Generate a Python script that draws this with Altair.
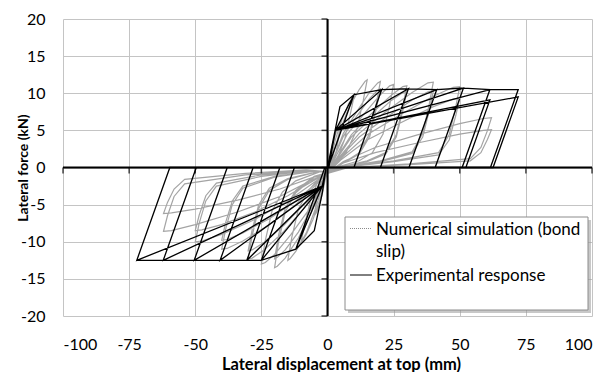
import altair as alt
import pandas as pd

# ---------------- data ----------------
x_ticks = [-100, -75, -50, -25, 0, 25, 50, 75, 100]
y_ticks = [-20, -15, -10, -5, 0, 5, 10, 15, 20]

# black path (idealised hysteresis) : displacement (mm), force (kN)
black_disp = [
    0, 2, 4.7, 10, 0.2,
    -0.5, -2, -5, -12, -1,
    0.5, 3, 10, 20.5, 10,
    -0.5, -2, -12, -25, -12.5,
    0.5, 3, 20.5, 10,
    -0.5, -2, -25, -12.5,
    0.5, 3, 20.5, 30.6, 20,
    -0.5, -2, -25, -30.5, -18,
    0.5, 3, 30.6, 20,
    -0.5, -2, -30.5, -18,
    0.5, 3, 30.6, 41.3, 30.8,
    -0.5, -2, -30.5, -40.6, -28.1,
    0.5, 3, 41.3, 30.8,
    -0.5, -2, -40.6, -28.1,
    0.5, 3, 41.3, 51.4, 40.7,
    -0.5, -2, -40.6, -50.4, -37.9,
    0.5, 3, 51.4, 40.7,
    -0.5, -2, -50.4, -37.9,
    0.5, 3, 51.4, 61.4, 50.9,
    -0.5, -2, -50.4, -62.1, -49.6,
    0.5, 3, 61.4, 52.3,
    -0.5, -2, -62.1, -49.6,
    0.5, 3, 61.4, 72.1, 61.6,
    -0.5, -2, -62.1, -72.1, -59.6,
    0.5, 3, 72.1, 62.6,
    -0.5, -2, -72.1, -59.6,
    0,
]
black_force = [
    0, 3.5, 8.2, 9.8, 0,
    0, -3.5, -8.5, -11, 0,
    0, 5, 9.8, 10.5, 0,
    0, -2.5, -11, -12.5, 0,
    0, 5, 10.5, 0,
    0, -2.5, -12.5, 0,
    0, 5, 10.5, 10.6, 0,
    0, -2.5, -12.5, -12.5, 0,
    0, 5, 10.6, 0,
    0, -2.5, -12.5, 0,
    0, 5, 10.6, 10.5, 0,
    0, -2.5, -12.5, -12.5, 0,
    0, 5, 10.5, 0,
    0, -2.5, -12.5, 0,
    0, 5, 10.5, 10.7, 0,
    0, -2.5, -12.5, -12.5, 0,
    0, 5, 10.7, 0,
    0, -2.5, -12.5, 0,
    0, 5, 10.7, 10.5, 0,
    0, -2.5, -12.5, -12.5, 0,
    0, 5, 9.1, 0,
    0, -2.5, -12.5, 0,
    0, 5, 10.5, 10.5, 0,
    0, -2.5, -12.5, -12.5, 0,
    0, 5, 9.5, 0,
    0, -2.5, -12.5, 0,
    0,
]

# grey path (rounded, pinched loops)
gray_disp = [
    0,
    0.8, 1.8, 3, 4.2, 5, 4.2, 3.2, 2, 0.8, 0,
    -0.8, -1.8, -3, -4.2, -5, -4.2, -3.2, -2, -0.8, 0.3,
    1, 3, 5.5, 8, 9.5, 10, 8.5, 6.5, 4, 1.5, 0,
    -1, -3, -5.5, -8, -9.5, -10, -8.5, -6.5, -4, -1.5, 0.5,
    1.5, 4.5, 8, 12, 14.2, 15, 13.5, 11, 7, 2, 0,
    -1.5, -4.5, -8, -12, -14.2, -15, -13.5, -11, -7, -2, 0.5,
    2, 6, 11, 16, 19, 20, 18.5, 16, 12, 5, 0,
    -2, -6, -11, -16, -19, -20, -18.5, -16, -12, -5, 0.5,
    2, 6, 11, 16, 19, 20, 18.5, 16, 12, 5, 0,
    -2, -6, -11, -16, -19, -20, -18.5, -16, -12, -5, 0.5,
    2.5, 7.5, 14, 20, 23.5, 25, 23.5, 21, 17, 12, 3, 0,
    -2.5, -7.5, -14, -20, -23.5, -25, -23.5, -21, -17, -12, -3, 0.5,
    3, 9, 16.5, 24, 28.5, 30, 28.5, 26, 22, 15, 4, 0,
    -3, -9, -16.5, -24, -28.5, -30, -28.5, -26, -22, -15, -4, 0.5,
    3, 9, 16.5, 24, 28.5, 30, 28.5, 26, 22, 15, 4, 0,
    -3, -9, -16.5, -24, -28.5, -30, -28.5, -26, -22, -15, -4, 0.5,
    4, 12, 22, 32, 38, 40, 38.5, 36, 32, 20, 5, 0,
    -4, -12, -22, -32, -38, -40, -38.5, -36, -32, -20, -5, 0.5,
    4, 12, 22, 32, 38, 40, 38.5, 36, 32, 20, 5, 0,
    -4, -12, -22, -32, -38, -40, -38.5, -36, -32, -20, -5, 0.5,
    5, 15, 27.5, 40, 47.5, 50, 48.5, 46, 42, 25, 6, 0,
    -5, -15, -27.5, -40, -47.5, -50, -48.5, -46, -42, -25, -6, 0.5,
    5, 15, 27.5, 40, 47.5, 50, 48.5, 46, 42, 25, 6, 0,
    -5, -15, -27.5, -40, -47.5, -50, -48.5, -46, -42, -25, -6, 0.5,
    6, 18, 34, 50, 59, 62, 60.5, 58, 54, 31, 8, 0,
    -6, -18, -34, -50, -59, -62, -60.5, -58, -54, -31, -8, 0.5,
    6, 18, 34, 50, 59, 62, 60.5, 58, 54, 31, 8, 0,
    -6, -18, -34, -50, -59, -62, -60.5, -58, -54, -31, -8, 0.5,
]
gray_force = [
    0,
    1.2, 3.0, 4.5, 5.6, 6.0, 4.0, 2.0, 0.8, 0.1, -0.5,
    -1.5, -3.3, -5.0, -6.1, -6.5, -4.5, -2.5, -1.2, -0.5, -0.3,
    0.6, 3.8, 6.5, 8.6, 9.4, 9.5, 7.0, 3.8, 1.5, 0.3, -0.6,
    -1.8, -4.5, -7.0, -9.0, -9.9, -10.0, -7.5, -4.5, -2.2, -0.8, -0.4,
    0.8, 4.8, 8.0, 10.5, 11.6, 11.8, 9.0, 5.0, 2.0, 0.3, -0.7,
    -2.0, -5.5, -8.8, -11.3, -12.3, -12.5, -9.4, -5.6, -3.0, -1.0, -0.5,
    1.0, 4.6, 7.5, 10.2, 11.4, 11.6, 8.7, 4.6, 2.0, 0.4, -0.8,
    -2.5, -6.0, -9.5, -12.2, -13.3, -13.5, -10.0, -6.0, -3.4, -1.3, -0.6,
    0.9, 4.2, 6.9, 9.3, 10.4, 10.6, 8.0, 4.2, 1.8, 0.4, -0.8,
    -2.3, -5.5, -8.7, -11.1, -12.1, -12.3, -9.1, -5.5, -3.1, -1.2, -0.6,
    1.0, 4.5, 7.3, 9.8, 11.0, 11.2, 8.4, 4.5, 2.0, 0.9, 0.0, -0.8,
    -2.6, -5.9, -9.1, -11.7, -12.8, -13.0, -9.8, -5.9, -3.3, -1.8, -0.6, -0.6,
    1.0, 4.4, 7.2, 9.7, 10.9, 11.0, 8.3, 4.4, 2.0, 0.9, 0.0, -0.8,
    -2.5, -5.5, -8.6, -11.1, -12.2, -12.3, -9.2, -5.5, -3.1, -1.6, -0.6, -0.6,
    0.9, 4.1, 6.6, 9.0, 10.1, 10.2, 7.7, 4.1, 1.8, 0.8, 0.0, -0.8,
    -2.3, -5.0, -7.8, -10.1, -11.1, -11.2, -8.4, -5.0, -2.8, -1.5, -0.6, -0.6,
    1.2, 4.6, 7.5, 10.1, 11.4, 11.5, 8.6, 4.6, 2.1, 0.9, 0.0, -0.8,
    -2.2, -5.0, -7.7, -9.9, -10.9, -11.0, -8.3, -5.0, -2.8, -1.3, -0.5, -0.6,
    1.1, 4.1, 6.7, 9.1, 10.2, 10.3, 7.7, 4.1, 1.9, 0.8, 0.0, -0.8,
    -2.0, -4.5, -6.9, -8.8, -9.7, -9.8, -7.4, -4.5, -2.5, -1.2, -0.5, -0.6,
    1.2, 4.4, 7.1, 9.6, 10.8, 10.9, 8.2, 4.4, 2.0, 0.9, 0.0, -0.8,
    -2.0, -4.5, -7.0, -9.0, -9.9, -10.0, -7.5, -4.5, -2.5, -1.2, -0.4, -0.6,
    1.0, 3.7, 6.0, 8.2, 9.2, 9.3, 7.0, 3.7, 1.7, 0.8, 0.0, -0.8,
    -1.7, -3.8, -6.0, -7.7, -8.4, -8.5, -6.4, -3.8, -2.1, -1.0, -0.4, -0.6,
    0.8, 2.7, 4.4, 5.9, 6.6, 6.7, 5.0, 2.7, 1.2, 0.5, 0.0, -0.8,
    -1.7, -3.9, -6.0, -7.7, -8.5, -8.6, -6.5, -3.9, -2.2, -1.0, -0.4, -0.6,
    0.6, 2.0, 3.3, 4.5, 5.0, 5.1, 3.8, 2.0, 0.9, 0.4, 0.0, -0.8,
    -1.4, -2.9, -4.4, -5.6, -6.1, -6.2, -4.7, -2.9, -1.6, -0.8, -0.3, -0.6,
]

legend_labels = ["Numerical simulation (bond", "slip)", "Experimental response"]

# ---------------- chart ----------------
black_df = pd.DataFrame({"d": black_disp, "f": black_force, "i": range(len(black_disp))})
gray_df = pd.DataFrame({"d": gray_disp, "f": gray_force, "i": range(len(gray_disp))})
xt_df = pd.DataFrame({"d": x_ticks, "f": [0] * len(x_ticks)})
yt_df = pd.DataFrame({"d": [0] * len(y_ticks), "f": y_ticks})
zero_df = pd.DataFrame({"d": [0], "f": [0]})
one = pd.DataFrame({"k": [0]})

FONT = "Lato"
xs = alt.Scale(domain=[-100, 100], nice=False, zero=False)
ys = alt.Scale(domain=[-20, 20], nice=False, zero=False)

x_axis = alt.Axis(
    values=x_ticks, grid=True, gridColor="#c4c4c4", gridWidth=1,
    domain=False, ticks=False, tickSize=0, labelPadding=20,
    labelExpr="'' + datum.value",
    labelFont=FONT, labelFontSize=16, labelColor="#000",
    title="Lateral displacement at top (mm)", titleFont=FONT, titleFontSize=16.5,
    titleFontWeight="bold", titleColor="#000", titleX=278, titleY=53,
    titleBaseline="alphabetic",
)
y_axis = alt.Axis(
    values=y_ticks, grid=True, gridColor="#c4c4c4", gridWidth=1,
    domain=False, ticks=False, tickSize=0, labelPadding=18,
    labelExpr="'' + datum.value",
    labelFont=FONT, labelFontSize=16, labelColor="#000",
    title="Lateral force (kN)", titleFont=FONT, titleFontSize=14,
    titleFontWeight="bold", titleColor="#000", titleX=-36, titleY=148.5,
    titleAngle=270, titleBaseline="alphabetic",
)

X = alt.X("d:Q", scale=xs, axis=x_axis)
Y = alt.Y("f:Q", scale=ys, axis=y_axis)

gray_line = alt.Chart(gray_df).mark_line(color="#a4a4a4", strokeWidth=1.2).encode(
    x=X, y=Y, order=alt.Order("i:Q"))
black_line = alt.Chart(black_df).mark_line(color="#000000", strokeWidth=1.3).encode(
    x=X, y=Y, order=alt.Order("i:Q"))
zero_v = alt.Chart(zero_df).mark_rule(color="#000", strokeWidth=2).encode(x=X)
zero_h = alt.Chart(zero_df).mark_rule(color="#000", strokeWidth=2).encode(y=Y)
x_tk = alt.Chart(xt_df).mark_tick(color="#000", orient="vertical", size=6, thickness=1.5, yOffset=3).encode(
    x=X, y=Y)
y_tk = alt.Chart(yt_df).mark_tick(color="#000", orient="horizontal", size=6, thickness=1.5, xOffset=-3).encode(
    x=X, y=Y)

# legend box (manual, to show dotted grey symbol)
shadow = alt.Chart(one).mark_rect(fill="#9a9a9a", opacity=0.55).encode(
    x=alt.value(285), x2=alt.value(528), y=alt.value(201), y2=alt.value(294))
box = alt.Chart(one).mark_rect(fill="white", stroke="#8c8c8c", strokeWidth=1).encode(
    x=alt.value(282), x2=alt.value(525), y=alt.value(198), y2=alt.value(291))
sym1 = alt.Chart(one).mark_rule(color="#8a8a8a", strokeWidth=1, strokeDash=[1, 1]).encode(
    x=alt.value(287), x2=alt.value(309), y=alt.value(209.5))
sym2 = alt.Chart(one).mark_rule(color="#000", strokeWidth=1).encode(
    x=alt.value(287), x2=alt.value(309), y=alt.value(256))
txt_kw = dict(align="left", baseline="alphabetic", font=FONT, fontSize=17, color="#000")
t1 = alt.Chart(one).mark_text(**txt_kw).encode(
    x=alt.value(313), y=alt.value(216), text=alt.value(legend_labels[0]))
t2 = alt.Chart(one).mark_text(**txt_kw).encode(
    x=alt.value(313), y=alt.value(237.5), text=alt.value(legend_labels[1]))
t3 = alt.Chart(one).mark_text(**txt_kw).encode(
    x=alt.value(313), y=alt.value(262), text=alt.value(legend_labels[2]))

chart = alt.layer(
    gray_line, black_line, zero_v, zero_h, x_tk, y_tk,
    shadow, box, sym1, sym2, t1, t2, t3,
).properties(
    width=529, height=297,
    padding={"left": 63, "top": 19, "right": 16, "bottom": 56},
    autosize=alt.AutoSizeParams(type="none"),
    background="white",
).configure_view(strokeWidth=0)

chart.save("out.html", embed_options={"renderer": "svg", "actions": False})
